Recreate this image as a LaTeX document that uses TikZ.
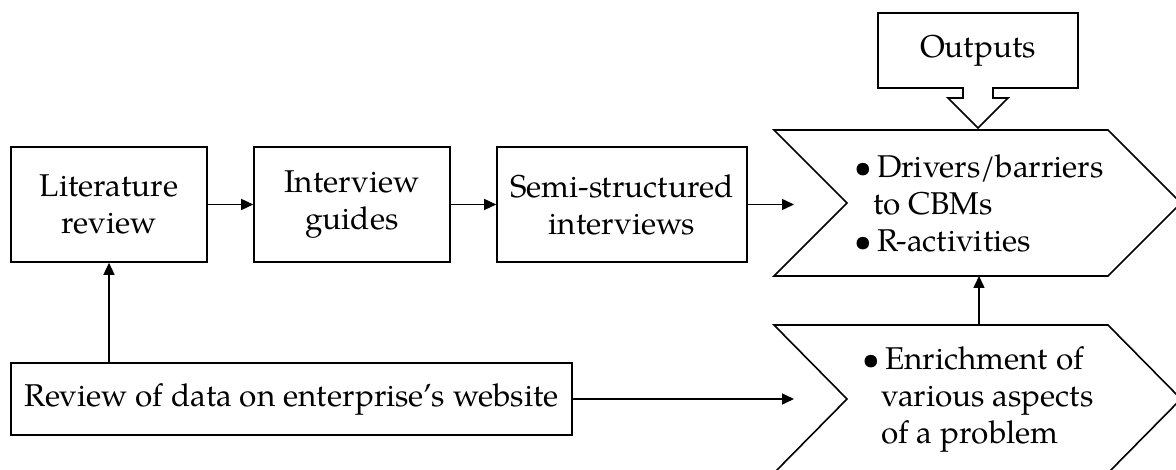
\documentclass[tikz,border=0pt]{standalone}
\usepackage{fontspec}
\setmainfont{texgyrepagella}[Extension=.otf,UprightFont=*-regular,BoldFont=*-bold,ItalicFont=*-italic,BoldItalicFont=*-bolditalic]
\usetikzlibrary{arrows.meta}
\begin{document}
\begin{tikzpicture}[x=1pt,y=-1pt,
  every node/.style={font=\fontsize{31.5}{37}\selectfont},
  boxed/.style={draw,line width=1.6pt,rectangle,inner sep=0pt,align=center},
  shapeline/.style={draw,line width=1.6pt,line join=miter},
  conn/.style={line width=1.5pt,-{Triangle[length=12pt,width=11pt]}}]
\useasboundingbox (0,0) rectangle (1176,470);
% boxes
\node[boxed,minimum width=196pt,minimum height=115pt] (lit) at (109,204.5) {Literature\\review};
\node[boxed,minimum width=196pt,minimum height=115pt] (guides) at (352,204.5) {Interview\\guides};
\node[boxed,minimum width=250pt,minimum height=115pt] (semi) at (622,204.5) {Semi-structured\\interviews};
\node[boxed,minimum width=561pt,minimum height=72pt] (review) at (291.5,399) {Review of data on enterprise’s website};
% outputs callout
\path[shapeline] (878,13) -- (1078,13) -- (1078,88) -- (993,88) -- (993,98) -- (1008,98) -- (978,128) -- (948,98) -- (963,98) -- (963,88) -- (878,88) -- cycle;
\node (outputs) at (978,50.5) {Outputs};
% chevrons
\path[shapeline] (774,130) -- (1108,130) -- (1181,203) -- (1108,276) -- (774,276) -- (847,203) -- cycle;
\path[shapeline] (774,325) -- (1108,325) -- (1181,399) -- (1108,473) -- (774,473) -- (847,399) -- cycle;
\node[align=left,inner sep=0pt] (chevA) at (979,203) {\textbullet\,Drivers/barriers\\\hspace*{0.6em}to CBMs\\\textbullet\,R-activities};
\node[align=left,inner sep=0pt] (chevB) at (978,399) {\textbullet\,Enrichment of\\\hspace*{0.6em}various aspects\\\hspace*{0.6em}of a problem};
\coordinate (inA) at (794,203);
\coordinate (inB) at (794,399);
\coordinate (c1bot) at (979,276);
\coordinate (c2top) at (979,325);
% connectors
\draw[conn] (lit.east) -- (guides.west);
\draw[conn] (guides.east) -- (semi.west);
\draw[conn] (semi.east) -- (semi.east -| inA);
\draw[conn] (review.east) -- (inB);
\draw[conn] (review.north -| lit.south) -- (lit.south);
\draw[conn] (c2top) -- (c1bot);
\end{tikzpicture}
\end{document}
